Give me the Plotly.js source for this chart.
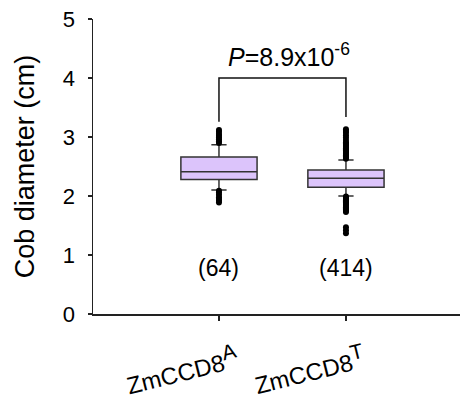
<!DOCTYPE html>
<html>
<head>
<meta charset="utf-8">
<script src="https://cdn.plot.ly/plotly-3.0.1.min.js"></script>
<style>html,body{margin:0;padding:0;background:#fff;}#chart{width:467px;height:402px;}</style>
</head>
<body>
<div id="chart"></div>
<script>
// Categories / tick labels
const categories = [0, 1];
const tickLabels = ["ZmCCD8<sup><span style=\"font-size:21px\">A</span></sup>",
                    "ZmCCD8<sup><span style=\"font-size:21px\">T</span></sup>"];
const sampleSizes = ["(64)", "(414)"];

// Box statistics (cm)
const q1Vals = [2.28, 2.15];
const medianVals = [2.41, 2.30];
const q3Vals = [2.66, 2.44];
const lowerFence = [2.10, 2.00];
const upperFence = [2.87, 2.61];

// Outliers
const outliersA = [2.90, 2.93, 2.96, 2.99, 3.02, 3.05, 3.09, 3.12,
                   2.09, 2.06, 2.02, 1.98, 1.95, 1.92, 1.89];
const outliersT = [2.63, 2.65, 2.67, 2.69, 2.71, 2.73, 2.75, 2.77, 2.79, 2.81,
                   2.83, 2.85, 2.87, 2.89, 2.91, 2.95, 2.99, 3.03, 3.07, 3.10, 3.13,
                   1.99, 1.97, 1.95, 1.93, 1.91, 1.89, 1.87, 1.85, 1.83, 1.81,
                   1.79, 1.77, 1.75, 1.73, 1.47, 1.42, 1.37];

// Significance bracket
const bracketX = [0, 0, 1, 1];
const bracketY = [3.26, 4.0, 4.0, 3.34];
const pText = "<i>P</i>=8.9x10<sup>-6</sup>";

const font = "Liberation Sans, Arial, sans-serif";

const traces = [
  {
    type: "box",
    x: categories,
    q1: q1Vals, median: medianVals, q3: q3Vals,
    lowerfence: lowerFence, upperfence: upperFence,
    width: 0.6,
    whiskerwidth: 0.2,
    boxpoints: false,
    fillcolor: "#dcc4fb",
    line: {color: "#333333", width: 1.5},
    hoverinfo: "skip",
    showlegend: false
  },
  {
    type: "scatter", mode: "markers",
    x: outliersA.map(() => categories[0]).concat(outliersT.map(() => categories[1])),
    y: outliersA.concat(outliersT),
    marker: {color: "#000", size: 6},
    showlegend: false, hoverinfo: "skip"
  },
  {
    type: "scatter", mode: "lines",
    x: bracketX, y: bracketY,
    line: {color: "#111", width: 1.5},
    showlegend: false, hoverinfo: "skip"
  }
];

const layout = {
  width: 467, height: 402,
  margin: {l: 93, r: 7, t: 19, b: 88},
  paper_bgcolor: "#fff", plot_bgcolor: "#fff",
  font: {family: font, color: "#000", size: 22},
  showlegend: false,
  xaxis: {
    range: [-0.992, 1.898],
    tickvals: categories, ticktext: tickLabels,
    tickangle: -14,
    ticks: "outside", ticklen: 5, tickwidth: 1.2, tickcolor: "#222",
    showline: true, linecolor: "#222", linewidth: 1.5,
    showgrid: false, zeroline: false,
    tickfont: {size: 24, family: font},
    ticklabelshift: 18,
    ticklabelstandoff: 18
  },
  yaxis: {
    range: [0, 5],
    tickvals: [0, 1, 2, 3, 4, 5],
    ticks: "outside", ticklen: 4, tickwidth: 1.2, tickcolor: "#222",
    showline: true, linecolor: "#222", linewidth: 1.5,
    showgrid: false, zeroline: false,
    tickfont: {size: 22, family: font},
    ticklabelstandoff: 8,
    title: {text: "Cob diameter (cm)", font: {size: 27, family: font}, standoff: 20}
  },
  annotations: [
    {x: 0.55, y: 4.39, xref: "x", yref: "y", text: pText, showarrow: false,
     font: {size: 25, family: font}},
    {x: categories[0], y: 0.78, xref: "x", yref: "y", text: sampleSizes[0], showarrow: false,
     font: {size: 23, family: font}},
    {x: categories[1], y: 0.78, xref: "x", yref: "y", text: sampleSizes[1], showarrow: false,
     font: {size: 23, family: font}}
  ]
};

Plotly.newPlot("chart", traces, layout, {displayModeBar: false, staticPlot: true});
</script>
</body>
</html>
